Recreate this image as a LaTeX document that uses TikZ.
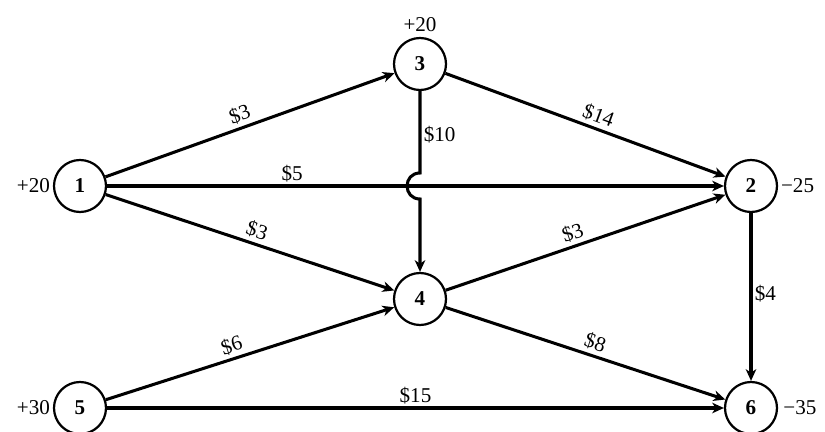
\documentclass[tikz,border=0pt]{standalone}
\usepackage{fontspec}
\setmainfont{Liberation Serif}
\usetikzlibrary{arrows.meta}

\begin{document}
\begin{tikzpicture}[x=0.03cm,y=-0.03cm,every node/.style={font=\fontsize{18}{21}\selectfont},site/.style={circle,draw,line width=1.9pt,minimum size=1.56cm,inner sep=0pt,font=\fontsize{18}{21}\selectfont\bfseries},flow/.style={-{Stealth[length=10pt,width=9pt,inset=3pt]},line width=2.6pt},cost/.style={above,sloped,inner sep=3pt},flat/.style={inner sep=2pt}]
\useasboundingbox (0,0) rectangle (825,432);
\node[site,label={[label distance=-1pt]left:{+20}}] (n1) at (80,186) {1};
\node[site,label={[label distance=1pt]above:{+20}}] (n3) at (420,64) {3};
\node[site,label={[label distance=-1pt]right:{−25}}] (n2) at (751,186) {2};
\node[site] (n4) at (420,299) {4};
\node[site,label={[label distance=-1pt]left:{+30}}] (n5) at (80,408) {5};
\node[site,label={[label distance=1pt]right:{−35}}] (n6) at (751,408) {6};
\draw[flow] (n1) -- node[cost,pos=0.48]{\$3} (n3);
\draw[flow] (n3) -- node[cost,pos=0.53]{\$14} (n2);
\draw[flow] (n1) -- node[flat,above,pos=0.3]{\$5} (n2);
\draw[flow] (n1) -- node[cost,pos=0.51]{\$3} (n4);
\draw[flow] (n4) -- node[cost,pos=0.47]{\$3} (n2);
\draw[flow] (n5) -- node[cost,pos=0.45]{\$6} (n4);
\draw[flow] (n4) -- node[cost,pos=0.52]{\$8} (n6);
\draw[flow] (n5) -- node[flat,above]{\$15} (n6);
\draw[flow] (n2) -- node[flat,right,pos=0.48]{\$4} (n6);
\coordinate (hopin) at (420,173);
\coordinate (hopout) at (420,199);
\draw[flow] (n3) -- node[flat,right,pos=0.53]{\$10} (hopin) to[out=180,in=180,looseness=1.7] (hopout) -- (n4);
\end{tikzpicture}
\end{document}
